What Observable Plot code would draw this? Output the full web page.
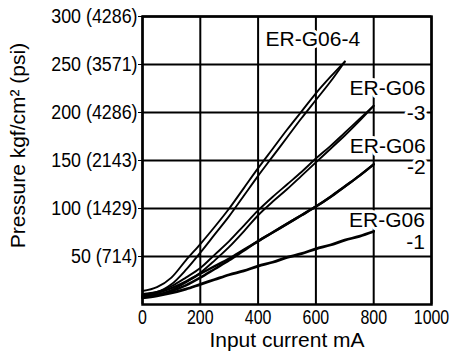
<!DOCTYPE html>
<html>
<head>
<meta charset="utf-8">
<script src="https://cdn.jsdelivr.net/npm/d3@7"></script>
<script src="https://cdn.jsdelivr.net/npm/@observablehq/plot@0.6"></script>
<style>
  html, body { margin: 0; padding: 0; background: #fff; }
</style>
</head>
<body>
<div id="chart"></div>
<script>
// Input current (mA)
const current = [0, 50, 100, 150, 200, 250, 300, 350, 400, 450, 500, 550, 600, 650, 700, 750, 800];
// Pressure (kgf/cm2), two branches of each hysteresis loop
const g4a = [14, 18, 28, 46, 63, 81, 100, 121, 142, 162, 182, 201, 220, 237, 253];
const g4b = [11, 13, 21, 36, 54, 73, 92, 113, 134, 154, 174, 194, 213, 232, 253];
const g3a = [10, 13, 19, 28, 38, 52, 66, 82, 98, 112, 125, 138, 152, 165, 179, 193, 207];
const g3b = [8, 10, 15, 23, 33, 46, 60, 76, 93, 107, 120, 134, 148, 162, 176, 191, 207];
const g2a = [9, 12, 17, 24, 32, 40, 48, 57, 66, 75, 84, 93, 102, 112, 123, 134, 146];
const g2b = [8, 10, 14, 20, 28, 37, 46, 56, 66, 75, 84, 93, 102, 112, 123, 134, 146];
const g1  = [7, 9, 12, 16, 21, 26, 31, 35, 40, 44, 49, 53, 58, 62, 67, 71, 76];

const xTicks = [0, 200, 400, 600, 800, 1000];
const yTicks = [50, 100, 150, 200, 250, 300];
const yTickLabels = ["50 (714)", "100 (1429)", "150 (2143)", "200 (4286)", "250 (3571)", "300 (4286)"];

const series = [
  {name: "4a", values: g4a, w: 1.9},
  {name: "4b", values: g4b, w: 1.9},
  {name: "3a", values: g3a, w: 1.9},
  {name: "3b", values: g3b, w: 1.9},
  {name: "2a", values: g2a, w: 2.4},
  {name: "2b", values: g2b, w: 2.4},
  {name: "1",  values: g1,  w: 2.8}
];
const rows = series.flatMap(s => s.values.map((v, i) => ({s: s.name, w: s.w, x: current[i], y: v})));

const font = "'Liberation Sans', Arial, Helvetica, sans-serif";
const halo = {fontFamily: font, fontSize: 21, fill: "#000", stroke: "#fff", strokeWidth: 6, lineAnchor: "middle"};

const chart = Plot.plot({
  width: 452,
  height: 356,
  marginLeft: 142,
  marginRight: 21,
  marginTop: 16,
  marginBottom: 52,
  style: {fontFamily: font, fontSize: "21px", color: "#000", background: "#fff"},
  x: {domain: [0, 1000]},
  y: {domain: [0, 300]},
  marks: [
    Plot.ruleX(xTicks, {stroke: "#000", strokeWidth: 2}),
    Plot.ruleY(yTicks, {stroke: "#000", strokeWidth: 2}),
    Plot.frame({stroke: "#000", strokeWidth: 2.5}),
    Plot.axisX({ticks: xTicks, tickSize: 0, tickPadding: 5, fontSize: 21, label: null, tickFormat: d => String(d)}),
    Plot.axisY({ticks: yTicks, tickSize: 4, tickPadding: 1, fontSize: 21, label: null, tickFormat: d => yTickLabels[yTicks.indexOf(d)]}),
    Plot.text(["ER-G06-4"], {x: 426, y: 276.5, textAnchor: "start", ...halo}),
    Plot.text(["ER-G06\n-3"], {x: 979, y: 213.5, textAnchor: "end", lineHeight: 1.21, ...halo}),
    Plot.text(["ER-G06\n-2"], {x: 980, y: 153.5, textAnchor: "end", lineHeight: 1.0, ...halo}),
    Plot.text(["ER-G06\n-1"], {x: 977, y: 77, textAnchor: "end", lineHeight: 1.07, ...halo}),
    Plot.line(rows, {x: "x", y: "y", z: "s", stroke: "#000", strokeWidth: "w", curve: "monotone-x"}),
    Plot.text(["Input current mA"], {frameAnchor: "bottom", dy: 42, fontSize: 21, fill: "#000"}),
    Plot.text(["Pressure kgf/cm\u00b2 (psi)"], {frameAnchor: "left", textAnchor: "middle", dx: -124, dy: -15, rotate: -90, fontSize: 21, fill: "#000"})
  ]
});
document.getElementById("chart").appendChild(chart);

// condensed look for tick labels (the reference uses a narrow face)
function condense(selector, f) {
  chart.querySelectorAll(selector).forEach(t => {
    const tr = t.getAttribute("transform") || "";
    t.setAttribute("transform", (tr + ` scale(${f},1)`).trim());
  });
}
condense("g[aria-label='y-axis tick label'] text", 0.85);
condense("g[aria-label='x-axis tick label'] text", 0.76);
</script>
</body>
</html>
